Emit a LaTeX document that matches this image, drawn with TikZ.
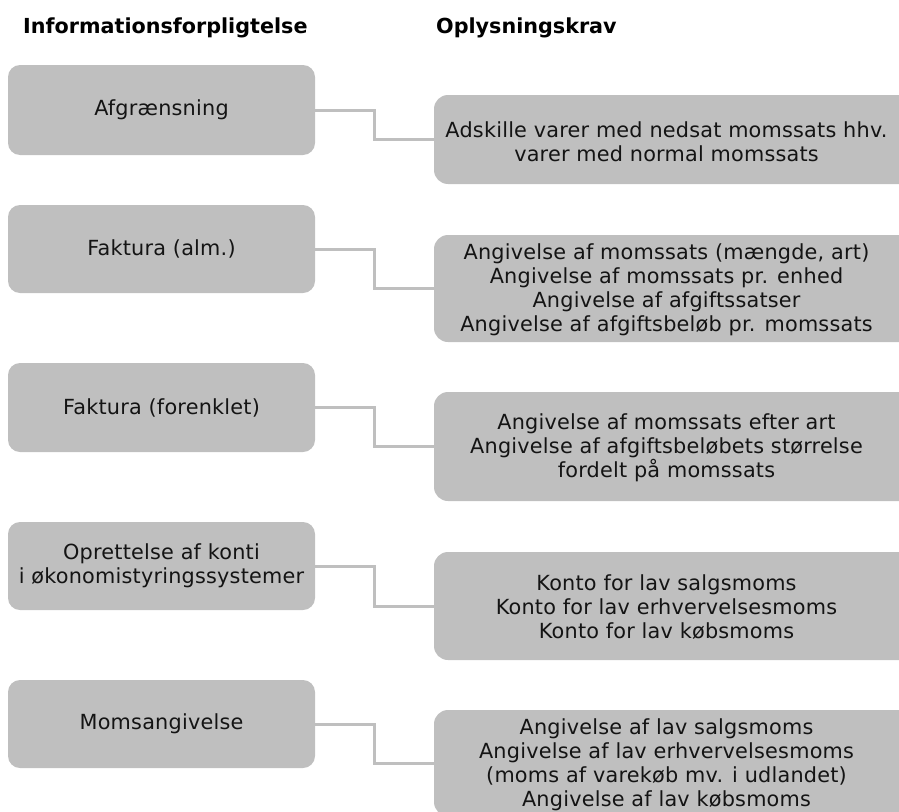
\documentclass[tikz,border=0pt]{standalone}
\usepackage{fontspec}
\setmainfont{DejaVu Sans}
\newfontfamily\bodyfam[LetterSpace=1.0]{DejaVu Sans}
\usetikzlibrary{calc}
\definecolor{boxgray}{RGB}{191,191,191}
\definecolor{txtcol}{RGB}{20,20,20}
\newcommand{\bodyfnt}{\bodyfam\fontsize{20.8}{24}\selectfont}
\newcommand{\headfnt}{\fontsize{20.7}{24}\selectfont\bfseries}
\begin{document}
\begin{tikzpicture}[x=1pt,y=-1pt,
  lbox/.style={fill=boxgray, rounded corners=12pt, minimum width=307pt, inner sep=0pt, align=center, font=\bodyfnt, text=txtcol},
  rbox/.style={fill=boxgray, rounded corners=14pt, minimum width=500pt, inner sep=0pt},
  rtxt/.style={align=center, font=\bodyfnt, text=txtcol, inner sep=0pt},
  conn/.style={draw=boxgray, line width=3pt},
  head/.style={font=\headfnt, anchor=base west, inner sep=0pt, text=black}]
\useasboundingbox (0,0) rectangle (899,811);
\clip (0,0) rectangle (899,811);

\node[head] (h1) at (23,33) {Informationsforpligtelse};
\node[head] (h2) at (436,33) {Oplysningskrav};

\node[lbox, minimum height=90pt] (L1) at (161.5,110) {Afgrænsning};
\node[lbox, minimum height=88pt] (L2) at (161.5,249) {Faktura (alm.)};
\node[lbox, minimum height=89pt] (L3) at (161.5,407.5) {Faktura (forenklet)};
\node[lbox, minimum height=88pt] (L4) at (161.5,566) {Oprettelse af konti\\i økonomistyringssystemer};
\node[lbox, minimum height=88pt] (L5) at (161.5,724) {Momsangivelse};

\node[rbox, minimum height=89pt] (R1) at (684,139.5) {};
\node[rbox, minimum height=107pt] (R2) at (684,288.5) {};
\node[rbox, minimum height=109pt] (R3) at (684,446.5) {};
\node[rbox, minimum height=108pt] (R4) at (684,606) {};
\node[rbox, minimum height=106pt] (R5) at (684,763) {};

\node[rtxt] (T1) at (666.5,142) {Adskille varer med nedsat momssats hhv.\\varer med normal momssats};
\node[rtxt] (T2) at (666.5,290) {Angivelse af momssats (mængde, art)\\Angivelse af momssats pr. enhed\\Angivelse af afgiftssatser\\Angivelse af afgiftsbeløb pr. momssats};
\node[rtxt] (T3) at (666.5,448) {Angivelse af momssats efter art\\Angivelse af afgiftsbeløbets størrelse\\fordelt på momssats};
\node[rtxt] (T4) at (666.5,607) {Konto for lav salgsmoms\\Konto for lav erhvervelsesmoms\\Konto for lav købsmoms};
\node[rtxt] (T5) at (666.5,765) {Angivelse af lav salgsmoms\\Angivelse af lav erhvervelsesmoms\\(moms af varekøb mv. i udlandet)\\Angivelse af lav købsmoms};

\coordinate (mx) at (374,0);
\foreach \i in {1,...,5}{
  \draw[conn] (L\i.east) -- (L\i.east -| mx) |- (R\i.west);
}
\end{tikzpicture}
\end{document}
